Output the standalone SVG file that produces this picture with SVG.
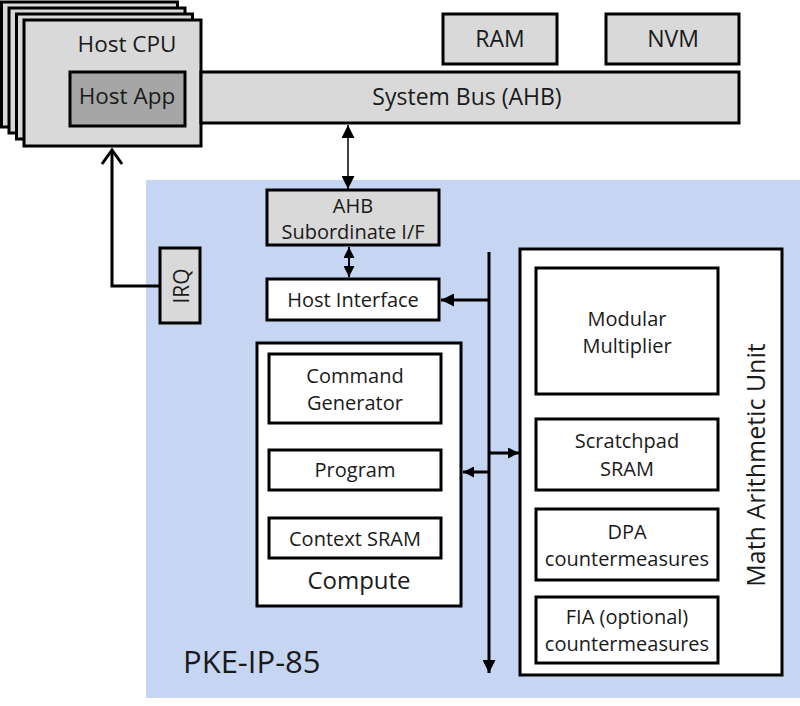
<svg xmlns="http://www.w3.org/2000/svg" width="800" height="706" viewBox="0 0 800 706">
<style>
text{font-family:"Open Sans","Noto Sans",sans-serif;fill:#1a1a1a;text-anchor:middle}
.box{stroke:#000;stroke-width:3}
.gray{fill:#d9d9d9}
.dark{fill:#a6a6a6}
.white{fill:#fff}
.t18{font-size:20px}
.t20{font-size:23px}
.t22{font-size:22.5px}
.t24{font-size:24px}
.thick{stroke:#000;stroke-width:3;fill:none}
.thin{stroke:#000;stroke-width:1.5;fill:none}
</style>
<defs>
<marker id="ah" viewBox="0 0 10 10" refX="10" refY="5" markerWidth="13" markerHeight="13" markerUnits="userSpaceOnUse" orient="auto-start-reverse"><path d="M0,0 L10,5 L0,10 z" fill="#000"/></marker>
<marker id="ahs" viewBox="0 0 10 10" refX="10" refY="5" markerWidth="11" markerHeight="11" markerUnits="userSpaceOnUse" orient="auto-start-reverse"><path d="M0,0 L10,5 L0,10 z" fill="#000"/></marker>
</defs>
<rect x="146" y="180" width="654" height="518" fill="#c6d5f2"/>
<g id="host-cpu">
<rect class="box gray" x="1.5" y="2" width="176" height="125"/>
<rect class="box gray" x="9" y="8" width="176" height="125"/>
<rect class="box gray" x="16.5" y="14" width="176" height="125"/>
<rect class="box gray" x="24" y="20" width="177" height="126"/>
<text class="t22" x="127" y="52">Host CPU</text>
</g>
<g id="system-bus">
<rect class="box gray" x="201" y="72" width="538" height="51"/>
<text class="t20" x="467" y="105">System Bus (AHB)</text>
</g>
<g id="host-app">
<rect class="box dark" x="70" y="72" width="115" height="54"/>
<text class="t22" x="127" y="104">Host App</text>
</g>
<g id="ram">
<rect class="box gray" x="443" y="14" width="114" height="50"/>
<text class="t20" x="500" y="47">RAM</text>
</g>
<g id="nvm">
<rect class="box gray" x="606" y="14" width="133" height="50"/>
<text class="t20" x="673" y="47">NVM</text>
</g>
<g id="ahb-sub">
<rect class="box gray" x="267" y="190" width="172" height="55"/>
<text class="t18" x="353" y="213">AHB</text>
<text class="t18" x="353" y="239">Subordinate I/F</text>
</g>
<g id="host-interface">
<rect class="box white" x="267" y="279" width="172" height="41"/>
<text class="t18" x="353" y="307">Host Interface</text>
</g>
<g id="irq">
<rect class="box gray" x="160" y="248" width="40" height="75"/>
<text transform="translate(189,286) rotate(-90)" style="font-size:21px">IRQ</text>
</g>
<g id="compute">
<rect class="box white" x="257" y="343" width="204" height="263"/>
<text class="t24" x="359" y="589">Compute</text>
</g>
<g id="command-generator">
<rect class="box white" x="269" y="354" width="172" height="69"/>
<text class="t18" x="355" y="383">Command</text>
<text class="t18" x="355" y="410">Generator</text>
</g>
<g id="program">
<rect class="box white" x="269" y="450" width="172" height="40"/>
<text class="t18" x="355" y="477">Program</text>
</g>
<g id="context-sram">
<rect class="box white" x="269" y="518" width="172" height="40"/>
<text class="t18" x="355" y="546">Context SRAM</text>
</g>
<g id="mau">
<rect class="box white" x="520" y="249" width="262" height="426"/>
<text transform="translate(765,465) rotate(-90)" style="font-size:25px">Math Arithmetic Unit</text>
</g>
<g id="modular-multiplier">
<rect class="box white" x="536" y="268" width="182" height="126"/>
<text class="t18" x="627" y="326">Modular</text>
<text class="t18" x="627" y="353">Multiplier</text>
</g>
<g id="scratchpad">
<rect class="box white" x="536" y="419" width="182" height="71"/>
<text class="t18" x="627" y="448">Scratchpad</text>
<text class="t18" x="627" y="476">SRAM</text>
</g>
<g id="dpa">
<rect class="box white" x="536" y="509" width="182" height="71"/>
<text class="t18" x="627" y="539">DPA</text>
<text class="t18" x="627" y="566">countermeasures</text>
</g>
<g id="fia">
<rect class="box white" x="536" y="597" width="182" height="66"/>
<text class="t18" x="627" y="624">FIA (optional)</text>
<text class="t18" x="627" y="651">countermeasures</text>
</g>
<g id="label-pke">
<text x="183" y="673" style="font-size:31px;text-anchor:start">PKE-IP-85</text>
</g>
<g id="connectors">
<line class="thin" x1="348" y1="125" x2="348" y2="189" marker-start="url(#ah)" marker-end="url(#ah)"/>
<line class="thin" x1="349" y1="247" x2="349" y2="277" style="stroke-width:2" marker-start="url(#ahs)" marker-end="url(#ahs)"/>
<polyline class="thick" points="160,286 112,286 112,150"/>
<polyline class="thick" points="102,164 112,150 122,164"/>
<line class="thick" x1="489" y1="252" x2="489" y2="673" marker-end="url(#ah)"/>
<line class="thick" x1="489" y1="300" x2="441" y2="300" marker-end="url(#ah)"/>
<line class="thick" x1="489" y1="472" x2="463" y2="472" marker-end="url(#ahs)"/>
<line class="thick" x1="489" y1="453" x2="519" y2="453" marker-end="url(#ahs)"/>
</g>
</svg>
